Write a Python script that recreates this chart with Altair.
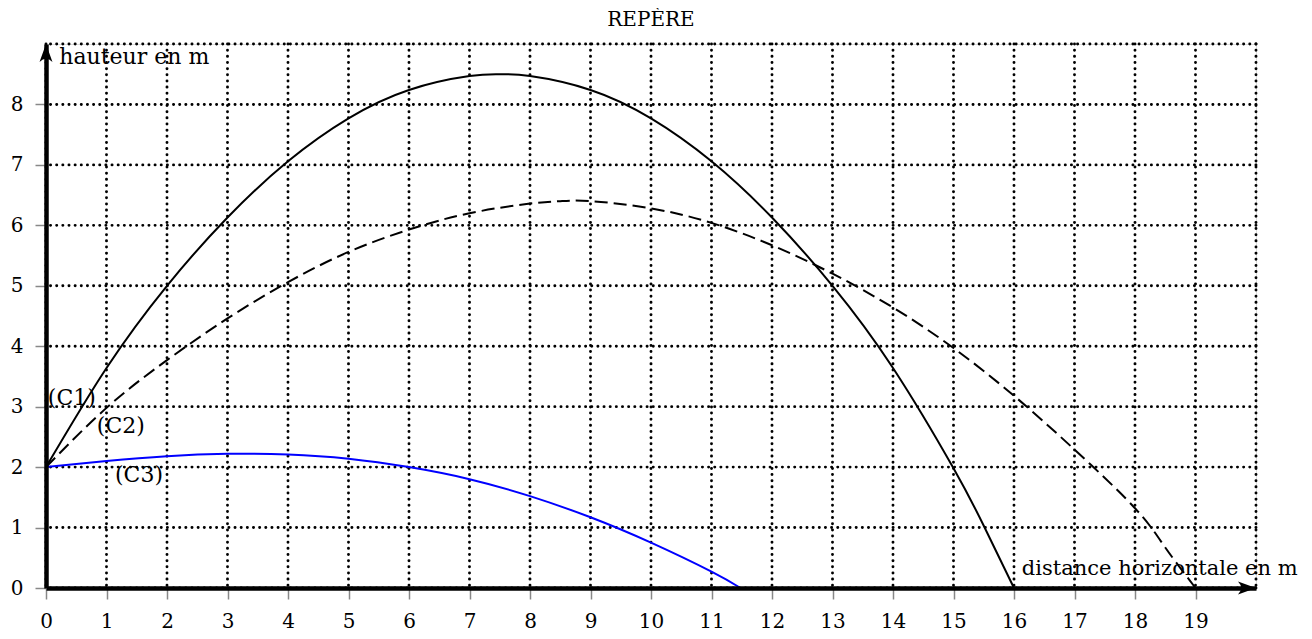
import altair as alt
import pandas as pd

# ---- data ----
c1_x = [0, 1, 2, 3, 4, 5, 6, 7, 7.5, 8, 9, 10, 11, 12, 13, 14, 15, 15.5, 16]
c1_y = [2, 3.64, 5.0, 6.13, 7.06, 7.77, 8.24, 8.47, 8.5, 8.47, 8.24, 7.77, 7.06, 6.13, 5.0, 3.64, 1.98, 1.03, 0]

c2_x = [0, 1, 2, 3, 4, 5, 6, 7, 8, 8.5, 9, 10, 11, 12, 13, 14, 15, 16, 17, 18, 18.5, 19]
c2_y = [2, 2.98, 3.77, 4.46, 5.06, 5.56, 5.93, 6.2, 6.36, 6.4, 6.4, 6.28, 6.04, 5.67, 5.2, 4.64, 3.97, 3.18, 2.29, 1.32, 0.67, 0]

c3_x = [0, 1, 2, 3, 4, 5, 6, 7, 8, 9, 10, 11, 11.48]
c3_y = [2, 2.10, 2.18, 2.22, 2.21, 2.14, 2.0, 1.8, 1.52, 1.17, 0.75, 0.27, 0]

grid_x = list(range(0, 21))
grid_y = list(range(0, 10))
tick_x = list(range(0, 20))
tick_y = list(range(0, 9))

label_text = ["hauteur en m", "(C1)", "(C2)", "(C3)"]
label_x = [0.22, 0.03, 0.84, 1.14]
label_y = [8.67, 3.02, 2.56, 1.76]

xlabel_text = ["distance horizontale en m"]
xlabel_x = [16.13]
xlabel_y = [0.21]

FONT = "DejaVu Serif"
FS = 22
TFS = 20

xs = alt.Scale(domain=[0, 20], nice=False, zero=False)
ys = alt.Scale(domain=[0, 9], nice=False, zero=False)

x_axis = alt.Axis(values=tick_x, title=None, grid=False, domainColor="black",
                  domainWidth=4.5, tickColor="#888888", tickWidth=1.5, tickSize=11,
                  labelFont=FONT, labelFontSize=TFS, labelColor="black",
                  labelPadding=12, labelFlush=False, zindex=1)
y_axis = alt.Axis(values=tick_y, title=None, grid=False, domainColor="black",
                  domainWidth=4.5, tickColor="#888888", tickWidth=1.5, tickSize=11,
                  labelFont=FONT, labelFontSize=TFS, labelColor="black",
                  labelPadding=12, labelFlush=False, zindex=1)

X = alt.X("x:Q", scale=xs, axis=x_axis)
Y = alt.Y("y:Q", scale=ys, axis=y_axis)

dot = dict(strokeDash=[0.1, 6.05], strokeCap="round", strokeWidth=2.9, color="black")

vgrid = alt.Chart(pd.DataFrame({"x": grid_x})).mark_rule(**dot).encode(x=X)
hgrid = alt.Chart(pd.DataFrame({"y": grid_y})).mark_rule(**dot).encode(y=Y)

c1 = alt.Chart(pd.DataFrame({"x": c1_x, "y": c1_y})).mark_line(
    color="black", strokeWidth=2, interpolate="natural").encode(x=X, y=Y)
c2 = alt.Chart(pd.DataFrame({"x": c2_x, "y": c2_y})).mark_line(
    color="black", strokeWidth=2, strokeDash=[13, 6], interpolate="natural").encode(x=X, y=Y)
c3 = alt.Chart(pd.DataFrame({"x": c3_x, "y": c3_y})).mark_line(
    color="#0000ff", strokeWidth=2, interpolate="natural").encode(x=X, y=Y)

labels = alt.Chart(pd.DataFrame({"x": label_x, "y": label_y, "t": label_text})).mark_text(
    align="left", baseline="alphabetic", font=FONT, fontSize=FS, color="black"
).encode(x=X, y=Y, text="t:N")

xlabel = alt.Chart(pd.DataFrame({"x": xlabel_x, "y": xlabel_y, "t": xlabel_text})).mark_text(
    align="left", baseline="alphabetic", font=FONT, fontSize=21, color="black"
).encode(x=X, y=Y, text="t:N")

arrow_r = alt.Chart(pd.DataFrame({"x": [20], "y": [0]})).mark_point(
    shape="M 0 0 L -1 -0.36 Q -0.65 0 -1 0.36 Z", size=1296, filled=True,
    color="black", opacity=1, strokeWidth=0).encode(x=X, y=Y)
arrow_u = alt.Chart(pd.DataFrame({"x": [0], "y": [9]})).mark_point(
    shape="M 0 0 L -0.36 1 Q 0 0.65 0.36 1 Z", size=1296, filled=True,
    color="black", opacity=1, strokeWidth=0).encode(x=X, y=Y)

chart = alt.layer(vgrid, hgrid, c1, c2, c3, labels, xlabel, arrow_r, arrow_u).properties(
    width=1210, height=544,
    title=alt.TitleParams("REPÈRE", font=FONT, fontSize=20, fontWeight="normal",
                          color="black", anchor="middle", offset=13),
    autosize=alt.AutoSizeParams(type="none"),
    padding={"left": 38, "top": 36, "right": 48, "bottom": 43},
).configure_view(stroke=None).configure(background="white")

chart.save("out.html", embed_options={"renderer": "svg", "actions": False})
